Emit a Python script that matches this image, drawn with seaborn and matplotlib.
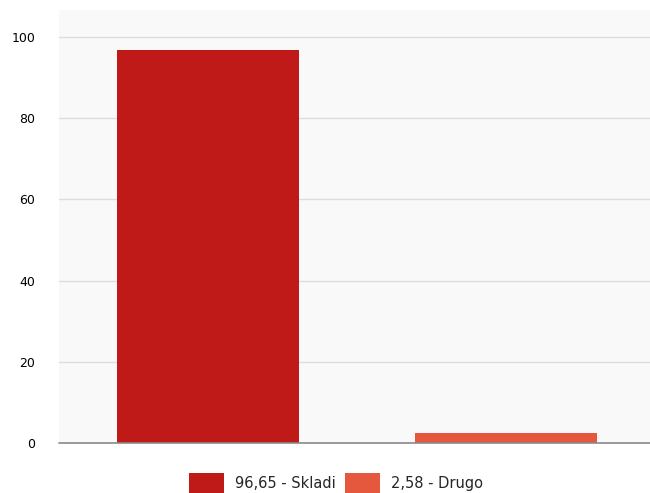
import pandas as pd
import matplotlib
matplotlib.use("Agg")
import matplotlib.pyplot as plt
import seaborn as sns
from matplotlib.patches import Patch

# podatki
kategorije = ["Skladi", "Drugo"]
vrednosti = [96.65, 2.58]
oznake = ["96,65 - Skladi", "2,58 - Drugo"]
barve = ["#c01a18", "#e5583e"]
y_ticks = [0, 20, 40, 60, 80, 100]

df = pd.DataFrame({"kategorija": kategorije, "vrednost": vrednosti})

sns.set_style("white")
plt.rcParams["font.family"] = ["DejaVu Sans"]

fig = plt.figure(figsize=(6.5, 4.93), dpi=100)
ax = fig.add_axes([59 / 650, 50 / 493, 596 / 650, 433 / 493])
ax.set_facecolor("#f9f9f9")

sns.barplot(data=df, x="kategorija", y="vrednost", hue="kategorija",
            palette=barve, width=0.61, legend=False, ax=ax,
            edgecolor="none", saturation=1)

ax.set_xlim(-0.5, 1.5)
ax.set_ylim(0, 106.6)
ax.set_yticks(y_ticks)
ax.set_yticklabels([str(t) for t in y_ticks], fontsize=9, color="#000000")
ax.tick_params(axis="y", length=0, pad=17)
ax.set_xticks([])
ax.set_xlabel("")
ax.set_ylabel("")
ax.grid(axis="y", color="#dddddd", linewidth=1)
ax.set_axisbelow(True)
for s in ax.spines.values():
    s.set_visible(False)

# osnovna črta
ax.axhline(0, color="#8a8a8a", linewidth=1.2, zorder=5, clip_on=False)

handles = [Patch(facecolor=b, edgecolor="none") for b in barve]
fig.legend(handles, oznake, loc="center", bbox_to_anchor=(336 / 650, 1 - 483 / 493),
           ncol=2, frameon=False, fontsize=10.5, handlelength=2.38, handleheight=1.8,
           handletextpad=0.72, columnspacing=0.7)

fig.savefig("out.png", dpi=100)
